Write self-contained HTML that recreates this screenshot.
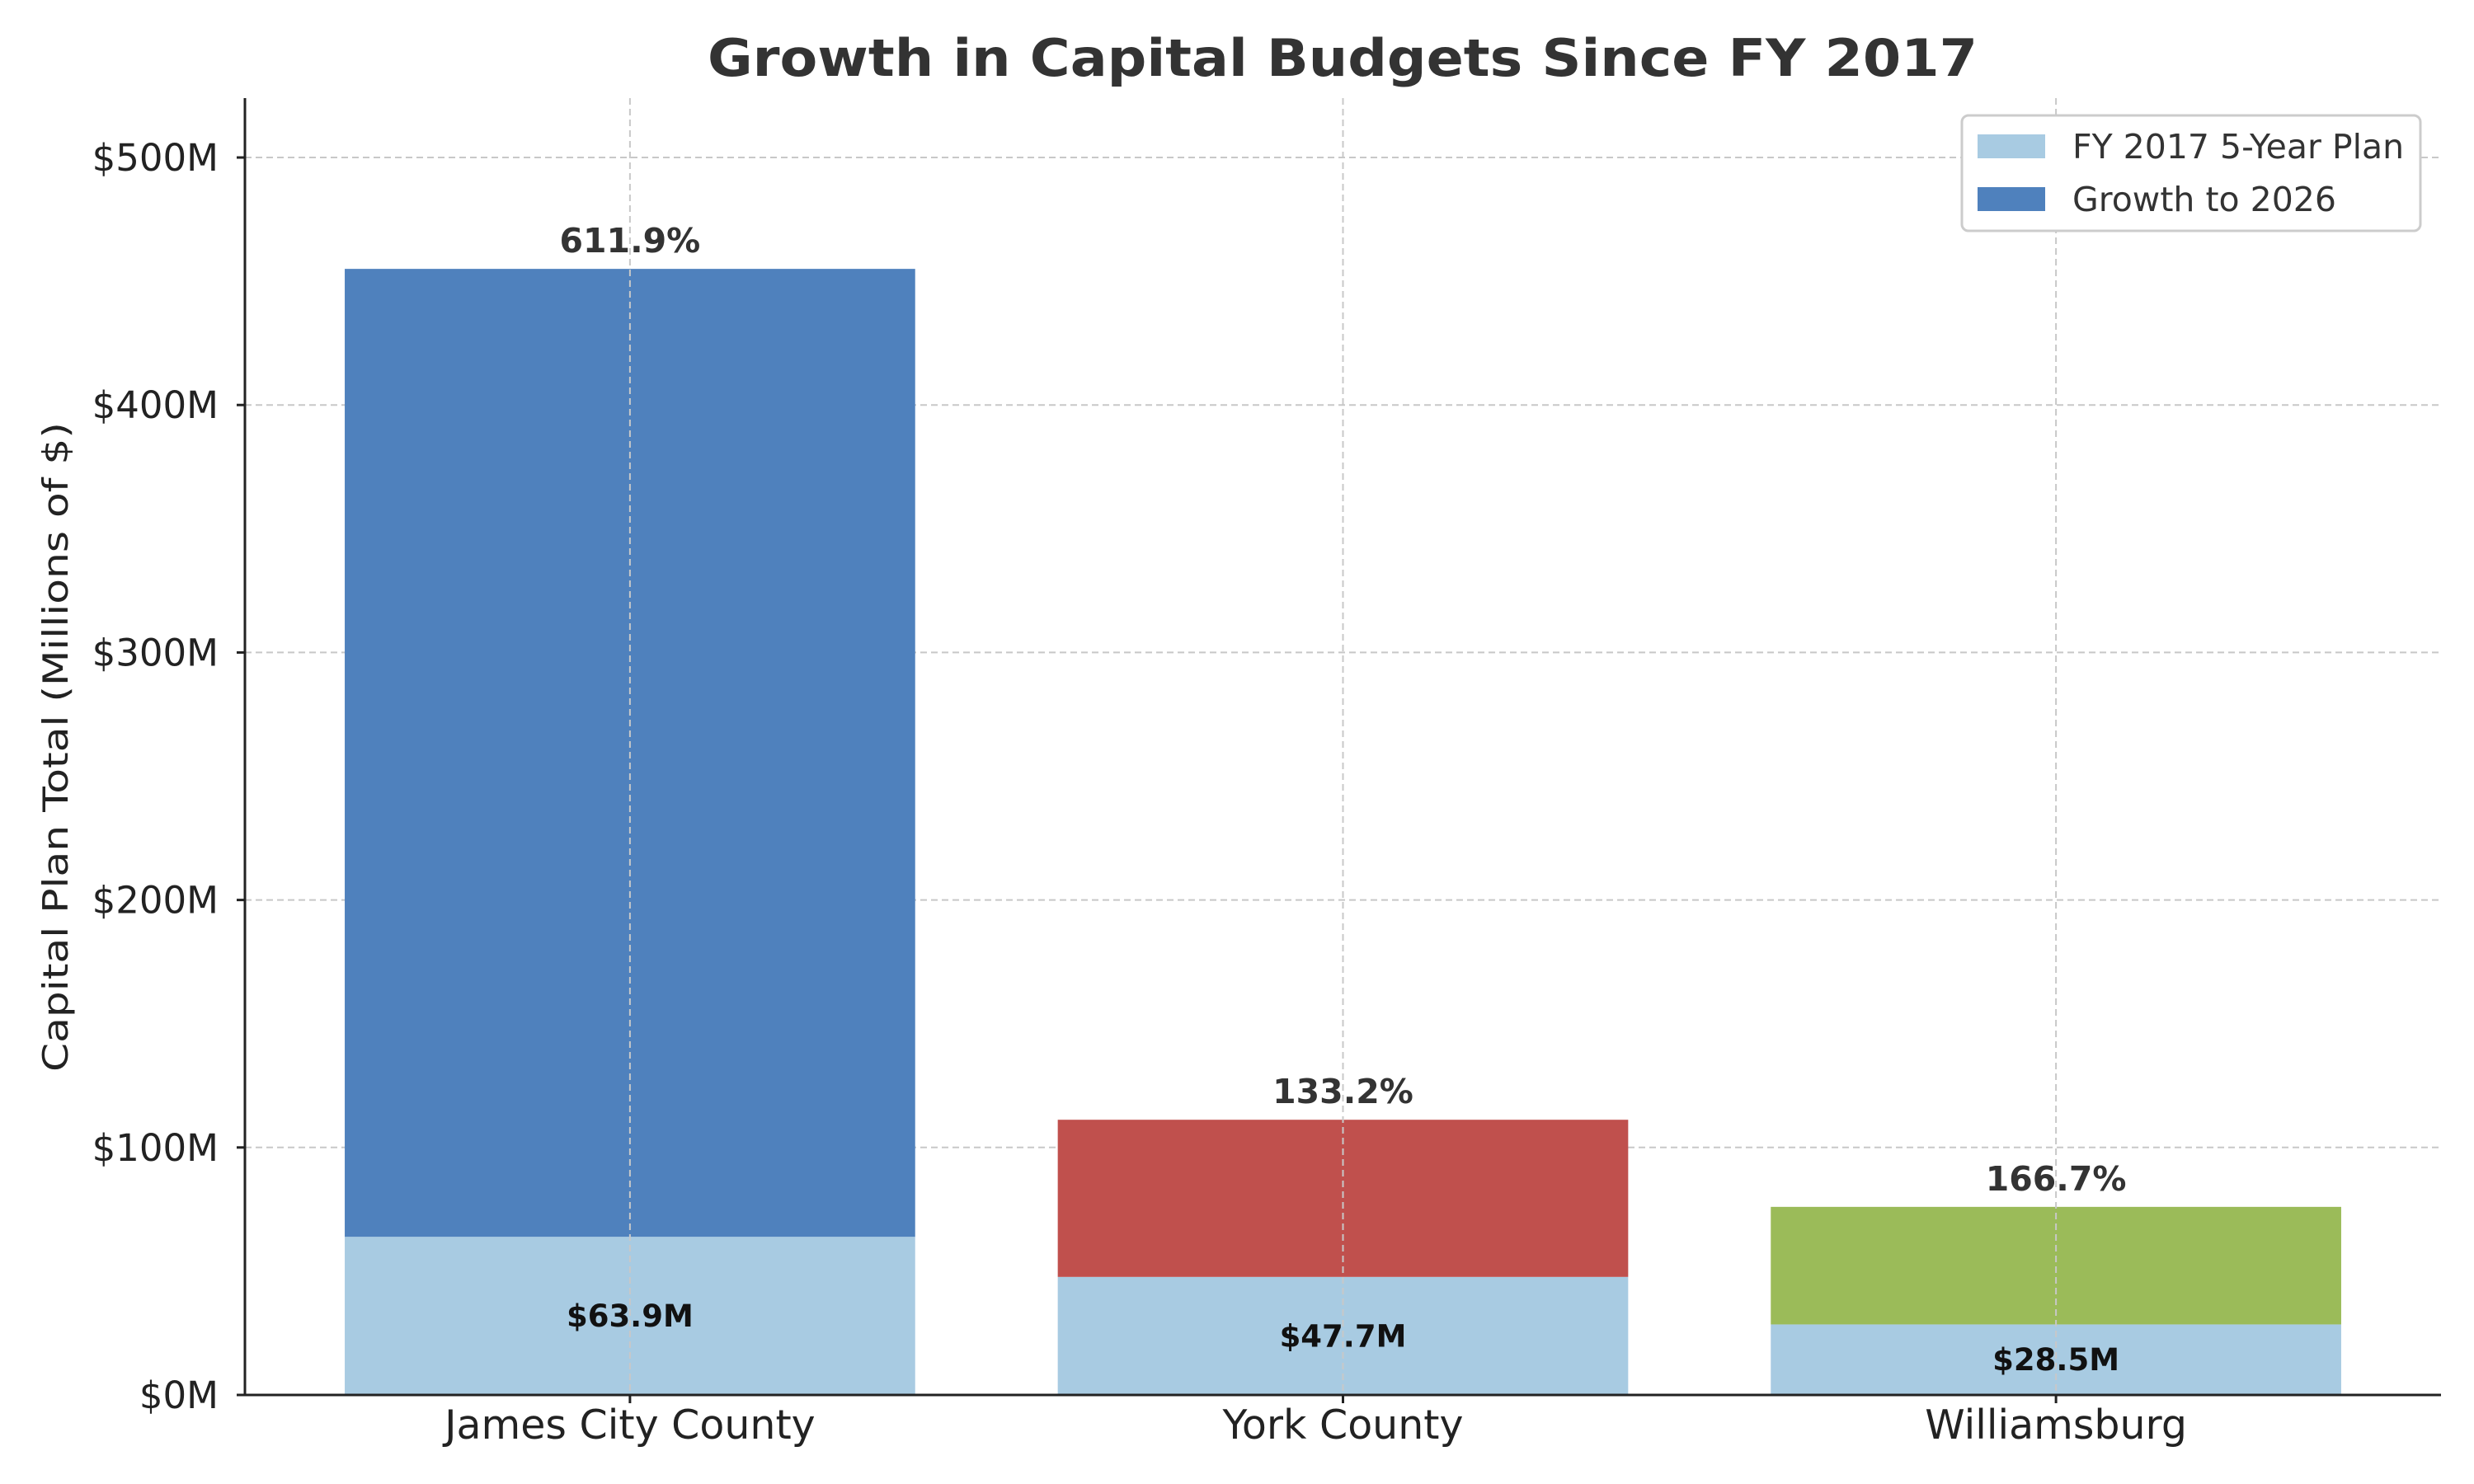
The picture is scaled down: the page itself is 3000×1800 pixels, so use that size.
<!DOCTYPE html>
<html><head><meta charset="utf-8"><style>
html,body{margin:0;padding:0;background:#fff}
svg{display:block;font-family:"DejaVu Sans","Liberation Sans",sans-serif}
</style></head><body>
<svg id="chart" width="3000" height="1800" viewBox="0 0 3000 1800" xmlns="http://www.w3.org/2000/svg">
<rect width="3000" height="1800" fill="#fff"/>
<text x="1628" y="92" text-anchor="middle" font-size="62" font-weight="bold" fill="#333" textLength="1540" lengthAdjust="spacingAndGlyphs">Growth in Capital Budgets Since FY 2017</text>
<g id="grid"></g><g id="bars"></g><g id="axes"></g><g id="labels"></g>
<text transform="translate(82,906) rotate(-90)" text-anchor="middle" font-size="42" fill="#222" textLength="788" lengthAdjust="spacingAndGlyphs">Capital Plan Total (Millions of $)</text>
<g>
<rect x="2379" y="140" width="556" height="140" rx="8" fill="#fff" stroke="#ccc" stroke-width="3"/>
<rect x="2398" y="163" width="82" height="29" fill="#a8cbe2"/>
<text x="2513" y="192" font-size="41" fill="#333">FY 2017 5-Year Plan</text>
<rect x="2398" y="227" width="82" height="29" fill="#4f81bd"/>
<text x="2513" y="256" font-size="41" fill="#333">Growth to 2026</text>
</g>
</svg>
<script>
const categories = ["James City County", "York County", "Williamsburg"];
const baseValues = [63.9, 47.7, 28.5];
const totalValues = [455.0, 111.2, 76.0];
const pctLabels = ["611.9%", "133.2%", "166.7%"];
const growthColors = ["#4f81bd", "#c0504d", "#9bbb59"];
const yTicks = [0, 100, 200, 300, 400, 500];

const NS = "http://www.w3.org/2000/svg";
const L = 297, R = 2960, B = 1692, T = 119;
const xMin = -0.54, xMax = 2.54, yMax = 524;
const xs = v => L + (v - xMin) / (xMax - xMin) * (R - L);
const ys = v => B - v / yMax * (B - T);
function mk(tag, attrs, parent, text) {
  const e = document.createElementNS(NS, tag);
  for (const k in attrs) e.setAttribute(k, attrs[k]);
  if (text !== undefined) e.textContent = text;
  parent.appendChild(e);
  return e;
}
const grid = document.getElementById('grid'), bars = document.getElementById('bars'),
      axes = document.getElementById('axes'), labels = document.getElementById('labels');

yTicks.forEach(t => {
  const g = mk('line', {x1: L, x2: R, y1: ys(t), y2: ys(t), stroke: '#c8c8c8', 'stroke-width': 2, 'stroke-dasharray': '8,5'}, grid);
  
  
  const tk = mk('line', {x1: L - 10, x2: L, y1: ys(t), y2: ys(t), stroke: '#222', 'stroke-width': 3}, axes);
  
  
  const tl = mk('text', {x: L - 32, y: ys(t) + 16, 'text-anchor': 'end', 'font-size': 45, fill: '#222'}, axes, '$' + t + 'M');
  
  
});

categories.forEach((c, i) => {
  const x0 = xs(i - 0.4), w = xs(i + 0.4) - x0;
  const b1 = mk('rect', {x: x0, y: ys(baseValues[i]), width: w, height: ys(0) - ys(baseValues[i]), fill: '#a8cbe2'}, bars);
  
  
  const b2 = mk('rect', {x: x0, y: ys(totalValues[i]), width: w, height: ys(baseValues[i]) - ys(totalValues[i]), fill: growthColors[i]}, bars);
  
  
  const vg = mk('line', {x1: xs(i), x2: xs(i), y1: T, y2: B, stroke: '#c8c8c8', 'stroke-width': 2, 'stroke-dasharray': '8,5'}, labels);
  
  
  const tk = mk('line', {x1: xs(i), x2: xs(i), y1: B, y2: B + 10, stroke: '#222', 'stroke-width': 3}, axes);
  
  
  const xl = mk('text', {x: xs(i), y: B + 53, 'text-anchor': 'middle', 'font-size': 49, fill: '#222'}, axes, c);
  
  
  const pl = mk('text', {x: xs(i), y: ys(totalValues[i]) - 20, 'text-anchor': 'middle', 'font-size': 41, 'font-weight': 'bold', fill: '#333'}, labels, pctLabels[i]);
  
  
  const bl = mk('text', {x: xs(i), y: ys(baseValues[i] / 2) + 13, 'text-anchor': 'middle', 'font-size': 37, 'font-weight': 'bold', fill: '#111'}, labels, '$' + baseValues[i].toFixed(1) + 'M');
  
  
});

const ya = mk('line', {x1: L, x2: L, y1: T, y2: B, stroke: '#222', 'stroke-width': 3}, axes);


const xa = mk('line', {x1: L, x2: R, y1: B, y2: B, stroke: '#222', 'stroke-width': 3}, axes);


</script>
</body></html>
